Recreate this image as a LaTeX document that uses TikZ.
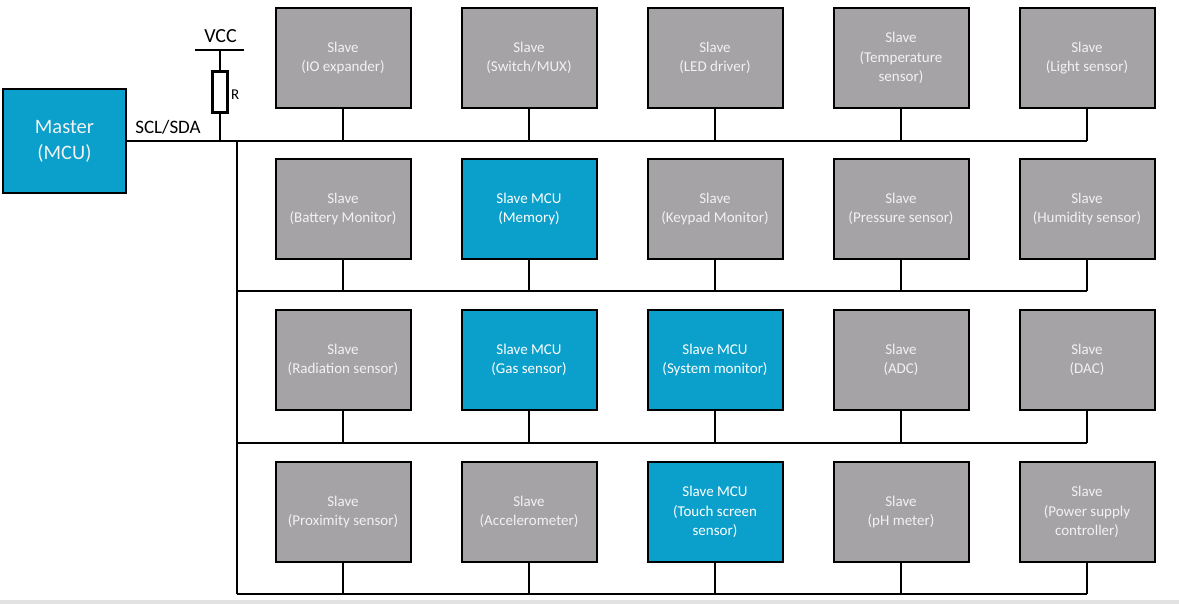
\documentclass[tikz,border=0pt]{standalone}
\usepackage{fontspec}
\setmainfont{Carlito}
\definecolor{slavegray}{HTML}{A5A3A5}
\definecolor{mcublue}{HTML}{0AA0CB}
\definecolor{slavetext}{HTML}{F2F2F2}
\definecolor{striph}{HTML}{E2E2E2}
\begin{document}
\begin{tikzpicture}[x=1pt,y=-1pt,
  slave/.style={draw=black, line width=2pt, fill=slavegray, minimum width=135pt, minimum height=100pt, inner sep=0pt, align=center, font=\fontsize{15}{19.5}\selectfont, text=slavetext},
  mcu/.style={slave, fill=mcublue, text=white},
  bus/.style={draw=black, line width=2pt},
  res/.style={draw=black, line width=3pt, fill=white, minimum width=15pt, minimum height=41pt, inner sep=0pt}
]
\useasboundingbox (0,0) rectangle (1179,604);
\fill[striph] (0,600) rectangle (1179,604);

% master
\node[mcu, minimum width=123pt, minimum height=104pt, font=\fontsize{20.5}{26}\selectfont, text=slavetext] (m) at (64.5,141) {Master\\(MCU)};

% row 1
\node[slave] (s11) at (343,58) {Slave\\(IO expander)};
\node[slave] (s12) at (529,58) {Slave\\(Switch/MUX)};
\node[slave] (s13) at (715,58) {Slave\\(LED driver)};
\node[slave] (s14) at (901,58) {Slave\\(Temperature\\sensor)};
\node[slave] (s15) at (1087,58) {Slave\\(Light sensor)};
% row 2
\node[slave] (s21) at (343,209) {Slave\\(Battery Monitor)};
\node[mcu]   (s22) at (529,209) {Slave MCU\\(Memory)};
\node[slave] (s23) at (715,209) {Slave\\(Keypad Monitor)};
\node[slave] (s24) at (901,209) {Slave\\(Pressure sensor)};
\node[slave] (s25) at (1087,209) {Slave\\(Humidity sensor)};
% row 3
\node[slave] (s31) at (343,360) {Slave\\(Radiation sensor)};
\node[mcu]   (s32) at (529,360) {Slave MCU\\(Gas sensor)};
\node[mcu]   (s33) at (715,360) {Slave MCU\\(System monitor)};
\node[slave] (s34) at (901,360) {Slave\\(ADC)};
\node[slave] (s35) at (1087,360) {Slave\\(DAC)};
% row 4
\node[slave] (s41) at (343,512) {Slave\\(Proximity sensor)};
\node[slave] (s42) at (529,512) {Slave\\(Accelerometer)};
\node[mcu]   (s43) at (715,512) {Slave MCU\\(Touch screen\\sensor)};
\node[slave] (s44) at (901,512) {Slave\\(pH meter)};
\node[slave] (s45) at (1087,512) {Slave\\(Power supply\\controller)};

% bus coordinates
\coordinate (r1) at (219.5,141);
\coordinate (v1) at (237,141);
\coordinate (v2) at (237,291);
\coordinate (v3) at (237,443);
\coordinate (v4) at (237,594);
\coordinate (e1) at (1087,141);
\coordinate (e2) at (1087,291);
\coordinate (e3) at (1087,443);
\coordinate (e4) at (1087,594);

\draw[bus] (m.east |- e1) -- (e1);
\draw[bus] (v1) -- (v4);
\draw[bus] (v2) -- (e2);
\draw[bus] (v3) -- (e3);
\draw[bus] (v4) -- (e4);

\foreach \r in {1,2,3,4}{
  \foreach \c in {1,2,3,4,5}{
    \draw[bus] (s\r\c.south) -- (s\r\c.south |- e\r);
  }
}

% pull-up resistor
\coordinate (vccl) at (195,50);
\coordinate (vccr) at (244,50);
\coordinate (vccm) at (219.5,50);
\node[res] (R) at (219.5,92.5) {};
\draw[bus] (vccl) -- (vccr);
\draw[bus] (vccm) -- (R.north);
\draw[bus] (R.south) -- (r1);
\node[font=\fontsize{20}{24}\selectfont, anchor=base, inner sep=0pt] (vcc) at (220.5,43) {VCC};
\node[font=\fontsize{15}{18}\selectfont, anchor=base west, inner sep=0pt] (rl) at (231,100) {R};
\node[font=\fontsize{19}{22}\selectfont, anchor=base, inner sep=0pt] (scl) at (168,134) {SCL/SDA};
\end{tikzpicture}
\end{document}
